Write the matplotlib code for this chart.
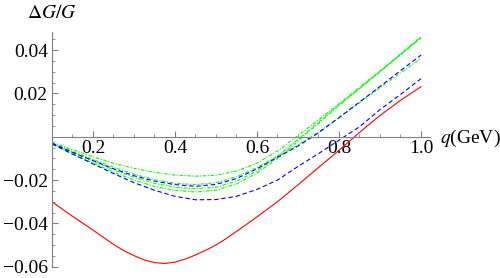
import matplotlib
matplotlib.use('Agg')
from matplotlib import pyplot as plt
from matplotlib.ticker import MultipleLocator, FuncFormatter

plt.rcParams['font.family'] = 'serif'
plt.rcParams['font.serif'] = ['Liberation Serif', 'DejaVu Serif']
plt.rcParams['mathtext.fontset'] = 'stix'

q = [0.10, 0.15, 0.20, 0.25, 0.30, 0.35, 0.40, 0.45, 0.50, 0.55,
     0.60, 0.65, 0.70, 0.75, 0.80, 0.85, 0.90, 0.95, 1.00]

# red curve read on a finer grid (it bends more)
q_red = [0.100, 0.125, 0.150, 0.175, 0.200, 0.225, 0.250, 0.275, 0.300, 0.325,
         0.350, 0.375, 0.400, 0.425, 0.450, 0.475, 0.500, 0.525, 0.550, 0.575,
         0.600, 0.650, 0.700, 0.750, 0.800, 0.850, 0.900, 0.950, 1.000]
red = [-0.0300, -0.0334, -0.0367, -0.0399, -0.0431, -0.0464, -0.0497, -0.0526, -0.0549, -0.0569,
       -0.0581, -0.0585, -0.0579, -0.0565, -0.0546, -0.0524, -0.0500, -0.0470, -0.0437, -0.0404,
       -0.0370, -0.0300, -0.0222, -0.0142, -0.0063, 0.0020, 0.0098, 0.0168, 0.0231]

blue_low = [-0.0034, -0.0080, -0.0125, -0.0170, -0.0212, -0.0247, -0.0275, -0.0291, -0.0290, -0.0275,
            -0.0243, -0.0200, -0.0137, -0.0078, -0.0016, 0.0046, 0.0125, 0.0195, 0.0268]
blue_up = [-0.0030, -0.0072, -0.0110, -0.0148, -0.0180, -0.0205, -0.0221, -0.0229, -0.0220, -0.0193,
           -0.0148, -0.0095, -0.0043, 0.0018, 0.0088, 0.0160, 0.0232, 0.0305, 0.0377]

green_1 = [-0.0025, -0.0060, -0.0092, -0.0122, -0.0146, -0.0164, -0.0177, -0.0182, -0.0178, -0.0158,
           -0.0122, -0.0065, 0.0005, 0.0078, 0.0152, 0.0228, 0.0303, 0.0382, 0.0462]
green_2 = [-0.0028, -0.0068, -0.0105, -0.0141, -0.0173, -0.0198, -0.0215, -0.0221, -0.0212, -0.0185,
           -0.0142, -0.0090, -0.0038, 0.0022, 0.0088, 0.0157, 0.0226, 0.0295, 0.0362]
green_3 = [-0.0030, -0.0072, -0.0113, -0.0152, -0.0187, -0.0215, -0.0233, -0.0240, -0.0233, -0.0205,
           -0.0158, -0.0090, -0.0012, 0.0068, 0.0148, 0.0225, 0.0302, 0.0380, 0.0458]
green_4 = [-0.0032, -0.0078, -0.0122, -0.0163, -0.0200, -0.0229, -0.0248, -0.0255, -0.0247, -0.0218,
           -0.0168, -0.0100, -0.0020, 0.0062, 0.0144, 0.0222, 0.0300, 0.0378, 0.0456]

xticks = [0.2, 0.4, 0.6, 0.8, 1.0]
yticks = [-0.06, -0.04, -0.02, 0.02, 0.04]

fig = plt.figure(figsize=(5, 2.78), dpi=100)
ax = fig.add_axes([52 / 500, 11.3 / 278, 378 / 500, 235 / 278])

dash = (0, (4, 2.5))
dashdot = (0, (3, 1.5, 1, 1.5))
lw = 0.8

for g in [green_1, green_2, green_3, green_4]:
    ax.plot(q, g, color='#00ff00', lw=lw, ls=dashdot)
ax.plot(q, blue_up, color='#0000ff', lw=lw, ls=dash)
ax.plot(q, blue_low, color='#0000ff', lw=lw, ls=dash)
ax.plot(q_red, red, color='#ff0000', lw=lw)

ax.set_xlim(0.1, 1.022)
ax.set_ylim(-0.06, 0.0485)

ax.spines['top'].set_visible(False)
ax.spines['right'].set_visible(False)
ax.spines['bottom'].set_position(('data', 0))
for s in ['left', 'bottom']:
    ax.spines[s].set_color('#808080')
    ax.spines[s].set_linewidth(0.8)

ax.set_xticks(xticks)
ax.set_yticks(yticks)
ax.xaxis.set_minor_locator(MultipleLocator(0.05))
ax.yaxis.set_minor_locator(MultipleLocator(0.005))
ax.xaxis.set_major_formatter(FuncFormatter(lambda v, p: '%.1f' % v))
ax.yaxis.set_major_formatter(FuncFormatter(lambda v, p: ('%.2f' % v).replace('-', '\u2212')))

ax.tick_params(axis='both', which='both', direction='in', color='#808080', labelsize=14)
ax.tick_params(axis='both', which='major', length=4, width=0.8)
ax.tick_params(axis='both', which='minor', length=2, width=0.6)
ax.tick_params(axis='x', pad=2)
ax.tick_params(axis='y', pad=3)
ax.patch.set_alpha(0)

fig.text(52 / 500, 1 - 14 / 278, r'$\Delta G/G$', fontsize=14, ha='center', va='center')
fig.text(440 / 500, 1 - 138 / 278, r'$q$(GeV)', fontsize=14, ha='left', va='center')

fig.savefig('out.png', dpi=100)
